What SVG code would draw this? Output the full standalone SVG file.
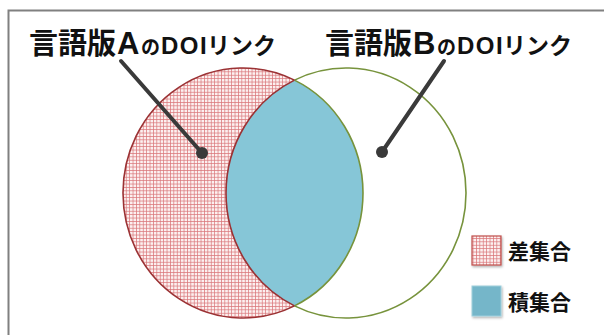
<svg xmlns="http://www.w3.org/2000/svg" width="604" height="335" viewBox="0 0 604 335">
<defs>
<pattern id="hatch" width="3.4" height="3.4" patternUnits="userSpaceOnUse">
<rect width="3.4" height="3.4" fill="#fcf0f0"/>
<path d="M0 0.4H3.4M0.4 0V3.4" stroke="#d8767a" stroke-width="0.75"/>
</pattern>
<filter id="sh" x="-20%" y="-20%" width="150%" height="150%">
<feDropShadow dx="1" dy="1.5" stdDeviation="1" flood-color="#000" flood-opacity="0.3"/>
</filter>
</defs>
<style>
.big{font-family:"Liberation Sans","Noto Sans CJK JP",sans-serif;font-weight:bold;fill:#111}
.k{font-size:29px}
.L{font-size:31px}
.no{font-size:19px}
.s{font-size:24px;letter-spacing:1.5px}
.r{font-size:23px}
.leg{font-family:"Noto Sans CJK JP",sans-serif;font-weight:bold;font-size:21px;fill:#111}
.red{fill:none;stroke:#9b3234;stroke-width:1.6}
.grn{fill:none;stroke:#77933c;stroke-width:1.6}
.lead{stroke:#3a3a3a;stroke-width:4;stroke-linecap:round}
</style>
<rect width="604" height="335" fill="#fff"/>
<path d="M8.5 335V10.5H604" fill="none" stroke="#808080" stroke-width="2"/>
<g id="setA">
<ellipse cx="243" cy="193" rx="120" ry="125" fill="url(#hatch)"/>
<path class="red" d="M294.5 80.1A120 125 0 1 0 294.5 305.9"/>
</g>
<g id="setB">
<path class="grn" d="M294.5 80.1A120 125 0 1 1 294.5 305.9"/>
</g>
<g id="intersection">
<path d="M294.5 80.1A120 125 0 0 1 294.5 305.9A120 125 0 0 1 294.5 80.1Z" fill="#86c6d7"/>
<path class="grn" d="M294.5 80.1A120 125 0 0 1 294.5 305.9"/>
<path class="red" d="M294.5 305.9A120 125 0 0 1 294.5 80.1"/>
</g>
<g id="connectors">
<line class="lead" x1="121" y1="61" x2="202" y2="153"/>
<circle cx="202" cy="153" r="6" fill="#3a3a3a"/>
<line class="lead" x1="444" y1="61" x2="382" y2="152"/>
<circle cx="382" cy="152" r="6" fill="#3a3a3a"/>
</g>
<g id="labelA">
<text class="big" y="54"><tspan class="k" x="29">言語版</tspan><tspan class="L" x="117">A</tspan><tspan class="no" x="141">の</tspan><tspan class="s" x="161">DOI</tspan><tspan class="r" x="207">リンク</tspan></text>
</g>
<g id="labelB">
<text class="big" y="54"><tspan class="k" x="325">言語版</tspan><tspan class="L" x="413">B</tspan><tspan class="no" x="437">の</tspan><tspan class="s" x="457">DOI</tspan><tspan class="r" x="503">リンク</tspan></text>
</g>
<g id="legendDiff">
<rect x="472" y="236" width="29" height="29" fill="url(#hatch)" stroke="#c0504d" stroke-width="1.2" filter="url(#sh)"/>
<text class="leg" x="508" y="259">差集合</text>
</g>
<g id="legendInter">
<rect x="472" y="286" width="29" height="30" fill="#74b6c9" stroke="#9fcfdc" stroke-width="1" filter="url(#sh)"/>
<text class="leg" x="508" y="310">積集合</text>
</g>
</svg>
